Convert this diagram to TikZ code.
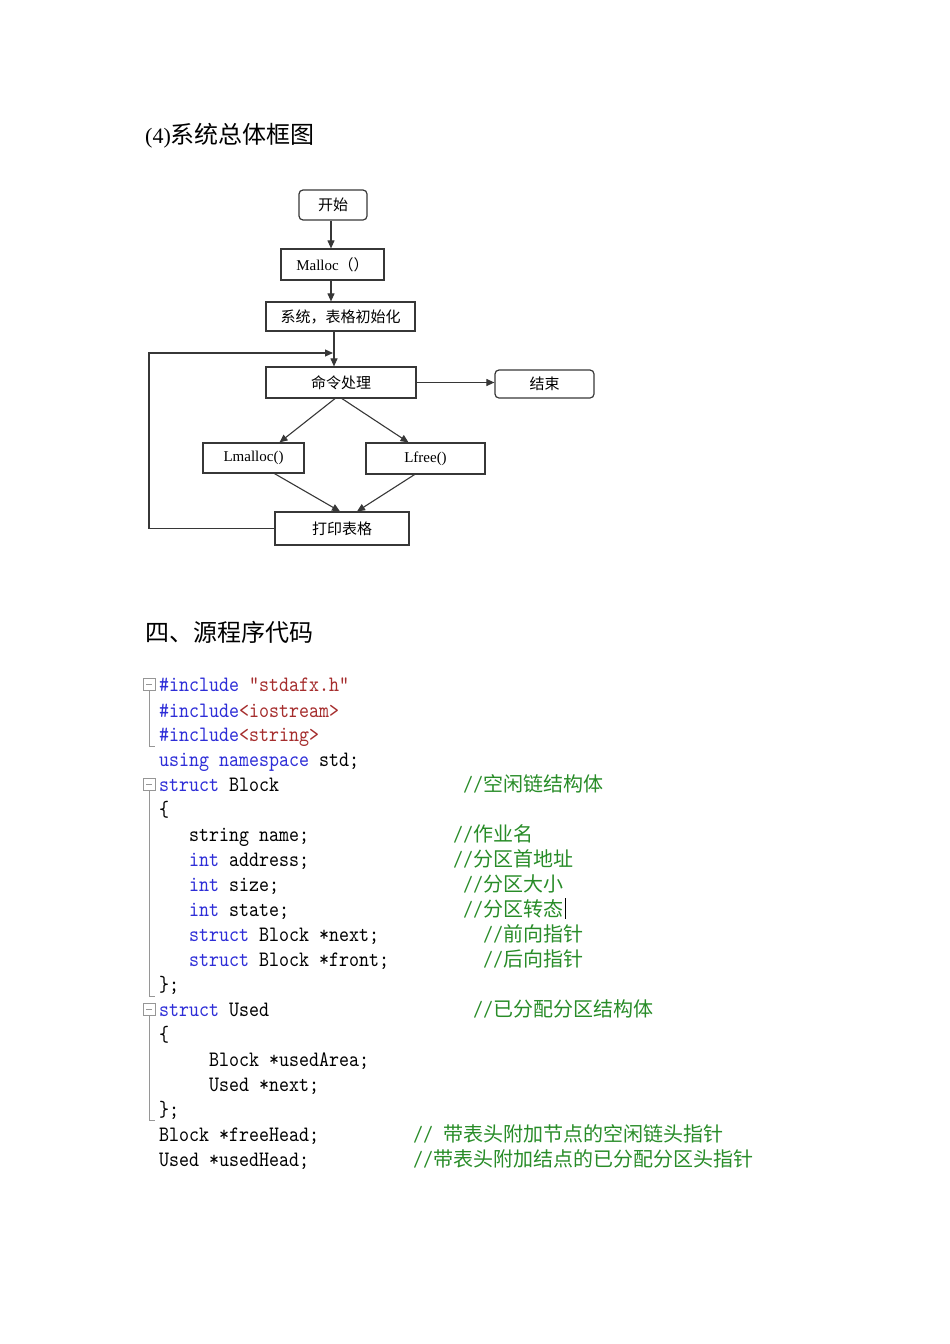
\documentclass[tikz,border=0pt]{standalone}
\usepackage{fontspec}
\setmainfont{Liberation Serif}
\newfontfamily\cjk{Noto Sans CJK SC}
\newfontfamily\codett[FakeStretch=0.866]{lmmono10-regular.otf}
\usetikzlibrary{arrows.meta}
\definecolor{kw}{RGB}{45,45,215}
\definecolor{st}{RGB}{165,45,45}
\definecolor{cm}{RGB}{40,140,40}
\definecolor{ln}{RGB}{55,55,55}
\definecolor{fold}{RGB}{150,150,150}
\newcommand\kw[1]{\textcolor{kw}{#1}}
\newcommand\stt[1]{\textcolor{st}{#1}}
\newcommand\cmt[1]{\textcolor{cm}{//{\cjk\fontsize{20}{20}\selectfont #1}}}
\begin{document}
\begin{tikzpicture}[x=1pt,y=-1pt,
  box/.style={draw=ln, line width=1.2pt, inner sep=0pt, font=\cjk\fontsize{15}{15}\selectfont},
  rbox/.style={box, rounded corners=4pt},
  arr/.style={draw=ln, line width=1.1pt, -{Triangle[length=8pt,width=7pt]}},
  head/.style={anchor=base west, inner sep=0pt},
  code/.style={anchor=base west, inner sep=0pt, font=\codett\fontsize{22}{22}\selectfont},
  foldbox/.style={draw=fold, line width=0.9pt, minimum width=12pt, minimum height=12pt, inner sep=0pt},
  foldline/.style={draw=fold, line width=1pt}
]
\useasboundingbox (0,0) rectangle (950,1344);

% headings
\node[head] (h1) at (145,143) {\fontsize{22}{22}\selectfont (4){\cjk\fontsize{24}{24}\selectfont 系统总体框图}};
\node[head] (h2) at (145,641) {\cjk\fontsize{24}{24}\selectfont 四、源程序代码};

% flowchart
\node[rbox, minimum width=68pt, minimum height=30pt] (start) at (333,205) {开始};
\node[box, minimum width=103pt, minimum height=31pt] (malloc) at (332.5,264.5) {{\fontsize{15}{15}\selectfont\rmfamily Malloc}（）};
\node[box, minimum width=149pt, minimum height=29pt] (init) at (340.5,316.5) {系统，表格初始化};
\node[box, minimum width=150pt, minimum height=31pt] (cmd) at (341,382.5) {命令处理};
\node[rbox, minimum width=99pt, minimum height=28pt] (end) at (544.5,384) {结束};
\node[box, minimum width=101pt, minimum height=30pt] (lm) at (253.5,458) {{\rmfamily\fontsize{15}{15}\selectfont Lmalloc()}};
\node[box, minimum width=119pt, minimum height=31pt] (lf) at (425.5,458.5) {{\rmfamily\fontsize{15}{15}\selectfont Lfree()}};
\node[box, minimum width=134pt, minimum height=33pt] (pr) at (342,528.5) {打印表格};

\coordinate (j) at (334,353);
\coordinate (lp) at (149,353);

\draw[arr] ([xshift=-2pt]start.south) -- ([xshift=-2pt]start.south |- malloc.north);
\draw[arr] ([xshift=-1.5pt]malloc.south) -- ([xshift=-1.5pt]malloc.south |- init.north);
\draw[arr] (init.south -| j) -- (cmd.north -| j);
\draw[arr] (pr.west) -| (lp) -- ([xshift=-1pt]j);
\draw[arr] (cmd.east) -- (cmd.east -| end.west);
\draw[arr] ([xshift=-6pt]cmd.south) -- ([xshift=26pt]lm.north);
\draw[arr] ([xshift=1pt]cmd.south) -- ([xshift=-17pt]lf.north);
\draw[arr] ([xshift=21pt]lm.south) -- ([xshift=-2pt]pr.north);
\draw[arr] ([xshift=-11pt]lf.south) -- ([xshift=15pt]pr.north);

% fold markers
\node[foldbox] (f1) at (149.5,684.5) {};
\draw[foldline] (f1.west) ++(3pt,0) -- ++(6pt,0);
\coordinate (f1e) at (155,746);
\draw[foldline] (f1.south) |- (f1e);
\node[foldbox] (f2) at (149.5,784.5) {};
\draw[foldline] (f2.west) ++(3pt,0) -- ++(6pt,0);
\coordinate (f2e) at (155,996);
\draw[foldline] (f2.south) |- (f2e);
\node[foldbox] (f3) at (149.5,1009.5) {};
\draw[foldline] (f3.west) ++(3pt,0) -- ++(6pt,0);
\coordinate (f3e) at (155,1120);
\draw[foldline] (f3.south) |- (f3e);

% code
\node[code] (l1) at (159,691) {\kw{\#include} \stt{"stdafx.h"}};
\node[code] (l2) at (159,717) {\kw{\#include}\stt{<iostream>}};
\node[code] (l3) at (159,741) {\kw{\#include}\stt{<string>}};
\node[code] (l4) at (159,766) {\kw{using namespace} std;};
\node[code] (l5) at (159,791) {\kw{struct} Block};
\node[code] (l5c) at (463,791) {\cmt{空闲链结构体}};
\node[code] (l6) at (159,816) {\{};
\node[code] (l7) at (189,841) {string name;};
\node[code] (l7c) at (453,841) {\cmt{作业名}};
\node[code] (l8) at (189,866) {\kw{int} address;};
\node[code] (l8c) at (453,866) {\cmt{分区首地址}};
\node[code] (l9) at (189,891) {\kw{int} size;};
\node[code] (l9c) at (463,891) {\cmt{分区大小}};
\node[code] (l10) at (189,916) {\kw{int} state;};
\node[code] (l10c) at (463,916) {\cmt{分区转态}};
\draw[line width=1.4pt] (l10c.base east) ++(2pt,-3pt) -- ++(0,21pt);
\node[code] (l11) at (189,941) {\kw{struct} Block *next;};
\node[code] (l11c) at (483,941) {\cmt{前向指针}};
\node[code] (l12) at (189,966) {\kw{struct} Block *front;};
\node[code] (l12c) at (483,966) {\cmt{后向指针}};
\node[code] (l13) at (159,991) {\};};
\node[code] (l14) at (159,1016) {\kw{struct} Used};
\node[code] (l14c) at (473,1016) {\cmt{已分配分区结构体}};
\node[code] (l15) at (159,1041) {\{};
\node[code] (l16) at (209,1066) {Block *usedArea;};
\node[code] (l17) at (209,1091) {Used *next;};
\node[code] (l18) at (159,1116) {\};};
\node[code] (l19) at (159,1141) {Block *freeHead;};
\node[code] (l19c) at (413,1141) {\textcolor{cm}{// {\cjk\fontsize{20}{20}\selectfont 带表头附加节点的空闲链头指针}}};
\node[code] (l20) at (159,1166) {Used *usedHead;};
\node[code] (l20c) at (413,1166) {\cmt{带表头附加结点的已分配分区头指针}};
\end{tikzpicture}
\end{document}
